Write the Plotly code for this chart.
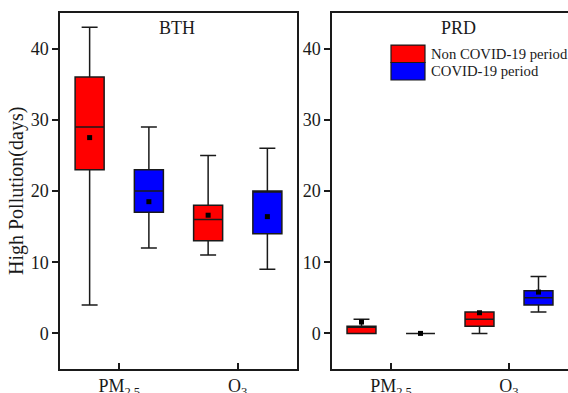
import numpy as np
import plotly.graph_objects as go

# ---- data ----
pollutants = ["PM<sub>2.5</sub>", "O<sub>3</sub>"]
regions = ["BTH", "PRD"]
periods = ["Non COVID-19 period", "COVID-19 period"]

# BTH
bth_non_low = [4, 11]
bth_non_q1 = [23, 13]
bth_non_med = [29, 16]
bth_non_q3 = [36, 18]
bth_non_up = [43, 25]
bth_non_mean = [27.5, 16.6]

bth_cov_low = [12, 9]
bth_cov_q1 = [17, 14]
bth_cov_med = [20, 20]
bth_cov_q3 = [23, 20]
bth_cov_up = [29, 26]
bth_cov_mean = [18.5, 16.4]

# PRD
prd_non_low = [0, 0]
prd_non_q1 = [0, 1]
prd_non_med = [1, 2]
prd_non_q3 = [1, 3]
prd_non_up = [2, 3]
prd_non_mean = [1.6, 2.9]

prd_cov_low = [0, 3]
prd_cov_q1 = [0, 4]
prd_cov_med = [0, 5]
prd_cov_q3 = [0, 6]
prd_cov_up = [0, 8]
prd_cov_mean = [0, 5.8]

colors = ["#FF0000", "#0000FF"]
FONT = "Liberation Serif"
INK = "#1a1a1a"

fig = go.Figure()

pos = np.arange(len(pollutants)) + 1.0
offsets = [-0.25, 0.25]
box_w = 0.245

series = {
    "BTH": [
        (bth_non_low, bth_non_q1, bth_non_med, bth_non_q3, bth_non_up, bth_non_mean),
        (bth_cov_low, bth_cov_q1, bth_cov_med, bth_cov_q3, bth_cov_up, bth_cov_mean),
    ],
    "PRD": [
        (prd_non_low, prd_non_q1, prd_non_med, prd_non_q3, prd_non_up, prd_non_mean),
        (prd_cov_low, prd_cov_q1, prd_cov_med, prd_cov_q3, prd_cov_up, prd_cov_mean),
    ],
}

for ri, reg in enumerate(regions):
    xa = "x" if ri == 0 else "x2"
    ya = "y" if ri == 0 else "y2"
    for pi, (lo, q1, med, q3, up, mean) in enumerate(series[reg]):
        xs = list(pos + offsets[pi])
        fig.add_trace(go.Box(
            x=xs, q1=q1, median=med, q3=q3, lowerfence=lo, upperfence=up,
            width=box_w, whiskerwidth=0.55, boxpoints=False,
            fillcolor=colors[pi], line=dict(color=INK, width=1.5),
            name=periods[pi], showlegend=False, xaxis=xa, yaxis=ya,
        ))
        fig.add_trace(go.Scatter(
            x=xs, y=mean, mode="markers",
            marker=dict(symbol="square", size=5, color="black"),
            showlegend=False, xaxis=xa, yaxis=ya,
        ))

axis_common = dict(
    showline=True, linecolor=INK, linewidth=1.5, showgrid=False, zeroline=False,
    tickfont=dict(family=FONT, size=18, color=INK), automargin=False,
)

fig.update_layout(
    width=568, height=393,
    margin=dict(l=0, r=0, t=0, b=0),
    paper_bgcolor="white", plot_bgcolor="white",
    xaxis=dict(domain=[60/568, 297/568], range=[0.5, 2.5], tickvals=list(pos), ticktext=pollutants,
               ticks="inside", ticklen=6, tickcolor=INK, tickwidth=1.5, mirror=True, **axis_common),
    yaxis=dict(domain=[1-369/393, 1-13/393], range=[-5, 45], tickvals=[0, 10, 20, 30, 40],
               ticks="outside", ticklen=6, tickcolor=INK, tickwidth=1.5, mirror=True, **axis_common),
    xaxis2=dict(domain=[332/568, 1.0], range=[0.5, 2.5], tickvals=list(pos), ticktext=pollutants,
                ticks="inside", ticklen=6, tickcolor=INK, tickwidth=1.5, mirror=True, anchor="y2", **axis_common),
    yaxis2=dict(domain=[1-369/393, 1-13/393], range=[-5, 45], tickvals=[0, 10, 20, 30, 40],
                ticks="outside", ticklen=6, tickcolor=INK, tickwidth=1.5, mirror=False, anchor="x2", **axis_common),
)

# panel titles
fig.add_annotation(text="BTH", x=0.494, y=0.958, xref="x domain", yref="y domain",
                   xanchor="center", yanchor="middle",
                   showarrow=False, font=dict(family=FONT, size=18, color=INK))
fig.add_annotation(text="PRD", x=0.538, y=0.958, xref="x2 domain", yref="y2 domain",
                   xanchor="center", yanchor="middle",
                   showarrow=False, font=dict(family=FONT, size=18, color=INK))

# y title
fig.add_annotation(text="High Pollution(days)", x=17/568, y=1-191/393, xref="paper", yref="paper",
                   xanchor="center", yanchor="middle",
                   textangle=-90, showarrow=False, font=dict(family=FONT, size=20, color=INK))

# legend (manual)
leg_y = [(0.910, 0.861), (0.861, 0.8118)]
for pi in range(2):
    fig.add_shape(type="rect", xref="x2 domain", yref="y2 domain",
                  x0=0.25, x1=0.394, y0=leg_y[pi][1], y1=leg_y[pi][0],
                  fillcolor=colors[pi], line=dict(color=INK, width=1.2))
    fig.add_annotation(text=periods[pi], x=0.411, y=(leg_y[pi][0]+leg_y[pi][1])/2,
                       xref="x2 domain", yref="y2 domain", xanchor="left", yanchor="middle",
                       showarrow=False, font=dict(family=FONT, size=14.7, color=INK))

fig.write_html("out.html")
